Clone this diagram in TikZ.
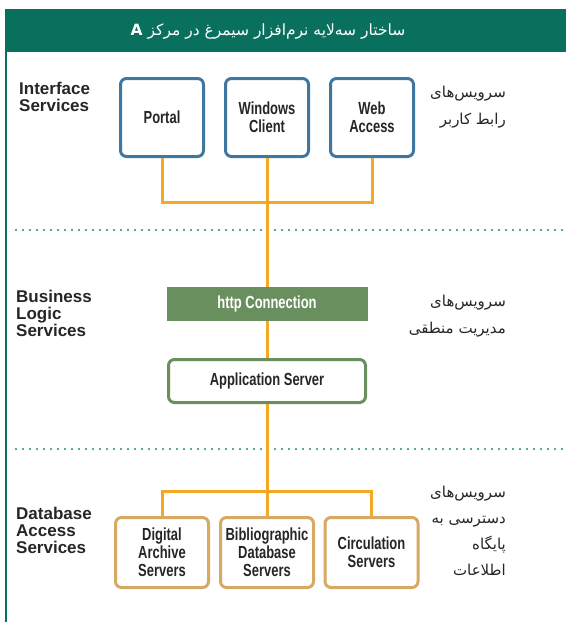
\documentclass[tikz,border=0pt]{standalone}
\usepackage{fontspec}
\usepackage{xcolor}
\usepackage{tikz}
\usetikzlibrary{positioning}
\TeXXeTstate=1
\newfontfamily\farsi[Script=Arabic]{DejaVu Sans}
\newfontfamily\boxfont[FakeStretch=0.74]{Liberation Sans}
\newfontfamily\sidefont{Liberation Sans}
\definecolor{teal_bar}{HTML}{0A705E}
\definecolor{box_blue}{HTML}{3F77A0}
\definecolor{wire_orange}{HTML}{F7A823}
\definecolor{bar_green}{HTML}{6A8F5F}
\definecolor{box_tan}{HTML}{D6AA63}
\definecolor{dot_green}{HTML}{139A50}
\tikzset{
    boxnode/.style = {align=center, inner sep=0pt, text centered, font=\boxfont\bfseries\fontsize{17.5}{18}\selectfont, text=black!85},
    blue_box/.style = {boxnode, rectangle, rounded corners=6pt, draw=box_blue, line width=3pt, fill=white, minimum width=83pt, minimum height=78pt},
    tan_box/.style = {boxnode, rectangle, rounded corners=6pt, draw=box_tan, line width=3pt, fill=white, minimum width=93pt, minimum height=70pt},
    green_bar/.style = {boxnode, rectangle, fill=bar_green, text=white, minimum width=201pt, minimum height=34pt},
    app_box/.style = {boxnode, rectangle, rounded corners=6pt, draw=bar_green, line width=3pt, fill=white, minimum width=197pt, minimum height=43pt},
    wire/.style = {draw=wire_orange, line width=3pt},
    tier_sep/.style = {draw=dot_green, line width=2.2pt, line cap=round, dash pattern=on 0pt off 7pt},
    side_label/.style = {align=left, inner sep=0pt, anchor=north west, font=\sidefont\bfseries\fontsize{17}{17}\selectfont, text=black!85},
    fa_label/.style = {align=right, inner sep=0pt, anchor=north east, font=\farsi\fontsize{15}{27}\selectfont, text=black!85}
}

\begin{document}
\begin{tikzpicture}[x=1pt,y=-1pt]
    \useasboundingbox (0,0) rectangle (566,622);
    % frame
    \fill[teal_bar] (5,9) rectangle (566,52);
    \draw[teal_bar, line width=2.5pt] (6.2,52) -- (6.2,622);
    \node (title) [text=white, font=\farsi\fontsize{15.5}{16}\selectfont] at (268,31)
        {\beginR ساختار سه‌لایه نرم‌افزار سیمرغ در مرکز \textbf{A}\endR};
    % tier separators
    \draw[tier_sep] (16,230) -- (566,230);
    \draw[tier_sep] (16,449) -- (566,449);
    % interface tier
    \node [blue_box] (portal) at (162,117.5) {Portal};
    \node [blue_box] (client) at (267,117.5) {Windows\\Client};
    \node [blue_box] (web) at (372,117.5) {Web\\Access};
    % business logic tier
    \node [green_bar] (http) at (267,304) {http Connection};
    \node [app_box] (app) at (267,381) {Application Server};
    % database tier
    \node [tan_box] (archive) at (162,552.5) {Digital\\Archive\\Servers};
    \node [tan_box] (biblio) at (267,552.5) {Bibliographic\\Database\\Servers};
    \node [tan_box] (circ) at (371.5,552.5) {Circulation\\Servers};
    \coordinate (topjoin) at (267,202);
    \coordinate (botjoin) at (267,491);
    % wires
    \draw[wire] (portal.south) |- (topjoin) -| (web.south);
    \draw[wire] (client.south) -- (http.north);
    \draw[wire] (http.south) -- (app.north);
    \draw[wire] (app.south) -- (botjoin);
    \draw[wire] (archive.north) |- (botjoin) -| (circ.north);
    \draw[wire] (botjoin) -- (biblio.north);
    % side labels
    \node [side_label] (lbl_if) at (19,82) {Interface\\Services};
    \node [side_label] (lbl_bl) at (16,290) {Business\\Logic\\Services};
    \node [side_label] (lbl_db) at (16,507) {Database\\Access\\Services};
    \node [fa_label] (fa_if) at (506,86) {\beginR سرویس‌های\endR\\\beginR رابط کاربر\endR};
    \node [fa_label] (fa_bl) at (506,295) {\beginR سرویس‌های\endR\\\beginR مدیریت منطقی\endR};
    \node [fa_label, font=\farsi\fontsize{15}{26}\selectfont] (fa_db) at (506,486)
        {\beginR سرویس‌های\endR\\\beginR دسترسی به\endR\\\beginR پایگاه\endR\\\beginR اطلاعات\endR};
\end{tikzpicture}
\end{document}
